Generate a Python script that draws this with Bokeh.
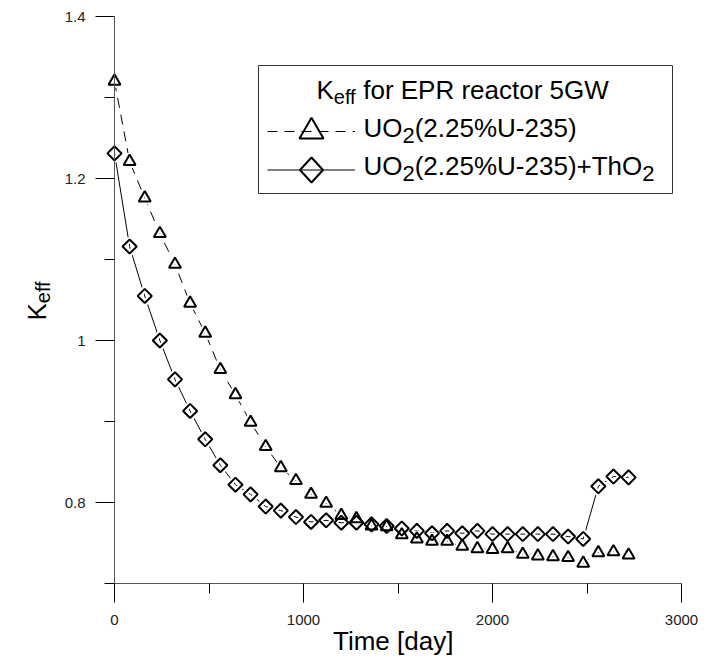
import numpy as np
from bokeh.plotting import figure
from bokeh.models import (Range1d, FixedTicker, Label, Legend, LegendItem,
                          BoxAnnotation, PolyAnnotation)
from bokeh.embed import file_html
from bokeh.resources import INLINE

# ---------------- data ----------------
days = [0, 80, 160, 240, 320, 400, 480, 560, 640, 720, 800, 880, 960, 1040,
        1120, 1200, 1280, 1360, 1440, 1520, 1600, 1680, 1760, 1840, 1920,
        2000, 2080, 2160, 2240, 2320, 2400, 2480, 2560, 2640, 2720]
keff_uo2 = [1.320, 1.221, 1.176, 1.132, 1.094, 1.046, 1.009, 0.964, 0.933,
            0.899, 0.869, 0.843, 0.827, 0.810, 0.799, 0.784, 0.780, 0.771,
            0.770, 0.760, 0.755, 0.752, 0.752, 0.746, 0.743, 0.742, 0.743,
            0.736, 0.734, 0.733, 0.732, 0.725, 0.738, 0.739, 0.735]
keff_uo2_tho2 = [1.231, 1.116, 1.055, 1.000, 0.952, 0.913, 0.878, 0.846, 0.822,
                 0.810, 0.795, 0.790, 0.782, 0.776, 0.778, 0.775, 0.775, 0.773,
                 0.771, 0.768, 0.765, 0.762, 0.765, 0.762, 0.765, 0.761, 0.761,
                 0.761, 0.761, 0.761, 0.758, 0.755, 0.820, 0.832, 0.831]

x_limits = (0, 3000)
y_limits = (0.7, 1.4)
xtick_values = [0, 1000, 2000, 3000]
xtick_labels = ["0", "1000", "2000", "3000"]
xtick_minor = [500, 1500, 2500]
ytick_values = [0.8, 1.0, 1.2, 1.4]
ytick_labels = ["0.8", "1", "1.2", "1.4"]
ytick_minor = [0.7, 0.9, 1.1, 1.3]

x_title = "Time [day]"
y_title = ("K", "eff")
legend_title = ("K", "eff", "for EPR reactor 5GW")
series1_label = ("UO", "2", "(2.25%U-235)")
series2_label = ("UO", "2", "(2.25%U-235)+ThO", "2")

FONT = "Liberation Sans"
MAIN = "26px"
SUB = "20px"
SUB2 = "22px"

# ---------------- layout (pixels) ----------------
W, H = 706, 657
AX_L, AX_R = 114, 681      # pixel columns of x = 0 and x = 3000
AX_T, AX_B = 16, 583       # pixel rows of y = 1.4 and y = 0.7
xs_per_px = (x_limits[1] - x_limits[0]) / (AX_R - AX_L)
ys_per_px = (y_limits[1] - y_limits[0]) / (AX_B - AX_T)
x_range = Range1d(x_limits[0] - AX_L * xs_per_px, x_limits[1] + (W - AX_R) * xs_per_px)
y_range = Range1d(y_limits[0] - (H - AX_B) * ys_per_px, y_limits[1] + AX_T * ys_per_px)

p = figure(width=W, height=H, x_range=x_range, y_range=y_range,
           output_backend="svg", toolbar_location=None,
           min_border_left=0, min_border_right=0,
           min_border_top=0, min_border_bottom=0)
p.xgrid.visible = False
p.ygrid.visible = False
p.outline_line_color = None
p.background_fill_color = "white"
p.border_fill_color = "white"

p.xaxis.fixed_location = y_limits[0]
p.yaxis.fixed_location = x_limits[0]
p.xaxis.bounds = x_limits
p.yaxis.bounds = y_limits

for ax in (p.xaxis[0], p.yaxis[0]):
    ax.axis_line_color = "#555555"
    ax.axis_line_width = 1
    ax.major_tick_line_color = "black"
    ax.minor_tick_line_color = "black"
    ax.major_tick_out = 19
    ax.major_tick_in = 0
    ax.minor_tick_out = 10
    ax.minor_tick_in = 0
    ax.major_label_text_font = FONT
    ax.major_label_text_font_size = "15px"
    ax.major_label_text_color = "#222222"
p.xaxis.major_label_standoff = 12
p.yaxis.major_label_standoff = 10

p.xaxis.ticker = FixedTicker(ticks=xtick_values, minor_ticks=xtick_minor)
p.xaxis.major_label_overrides = dict(zip(xtick_values, xtick_labels))
p.yaxis.ticker = FixedTicker(ticks=ytick_values, minor_ticks=ytick_minor)
p.yaxis.major_label_overrides = dict(zip(ytick_values, ytick_labels))

# ---------------- series ----------------
DASH = "10 7"
r1l = p.line(days, keff_uo2, line_color="black", line_width=1, line_dash=DASH)
r2l = p.line(days, keff_uo2_tho2, line_color="black", line_width=1)
# white halos: the connecting lines stop short of each symbol
p.scatter(days, keff_uo2, marker="triangle", size=12, fill_color=None,
          line_color="white", line_width=6)
p.scatter(days, keff_uo2_tho2, marker="square", angle=np.pi / 4, size=10,
          fill_color=None, line_color="white", line_width=6)
r1s = p.scatter(days, keff_uo2, marker="triangle", size=12, fill_color=None,
                line_color="black", line_width=2)
r2s = p.scatter(days, keff_uo2_tho2, marker="square", angle=np.pi / 4, size=10,
                fill_color=None, line_color="black", line_width=2)


def up(py):
    """page row -> frame-relative screen y (measured upward)"""
    return H - py


# ---------------- legend ----------------
box = BoxAnnotation(left=258, right=672, top=up(65), bottom=up(193),
                    left_units="screen", right_units="screen",
                    top_units="screen", bottom_units="screen",
                    fill_color=None, fill_alpha=0, line_color="#333333",
                    line_alpha=1, line_width=1)
p.add_layout(box)

common = dict(glyph_width=88, padding=0, margin=0, spacing=0, label_standoff=0,
              label_width=0, label_height=0, label_text_font_size="1px",
              border_line_color=None, background_fill_alpha=0)
leg1 = Legend(items=[LegendItem(label=" ", renderers=[r1l, r1s])],
              location=(267, up(161)), glyph_height=60, **common)
leg2 = Legend(items=[LegendItem(label=" ", renderers=[r2l])],
              location=(267, up(189)), glyph_height=39, **common)
p.add_layout(leg1)
p.add_layout(leg2)

cx, cy, hw, hh = 311, 169.5, 11.5, 12.5
diamond = PolyAnnotation(xs=[cx, cx + hw, cx, cx - hw],
                         ys=[up(cy - hh), up(cy), up(cy + hh), up(cy)],
                         xs_units="screen", ys_units="screen",
                         fill_color="white", fill_alpha=1,
                         line_color="black", line_width=2, line_alpha=1)
p.add_layout(diamond)

DY = 10  # Bokeh draws "alphabetic" text about this much below the anchor


def txt(px, py, s, size=MAIN, angle=0, align="left", color="black"):
    if angle:
        sx, sy = px - DY, up(py)
    else:
        sx, sy = px, up(py - DY)
    p.add_layout(Label(x=sx, y=sy, x_units="screen", y_units="screen", text=s,
                       text_font=FONT, text_font_size=size, angle=angle,
                       text_align=align, text_baseline="alphabetic",
                       text_color=color))


# legend title (page pixel positions of baselines)
txt(316, 99, legend_title[0])
txt(333.3, 106, legend_title[1], SUB)
txt(362.7, 99, legend_title[2])
# series 1
txt(363, 137, series1_label[0])
txt(402, 145, series1_label[1], SUB2)
txt(414.2, 137, series1_label[2])
# series 2
txt(363, 175, series2_label[0])
txt(402, 183, series2_label[1], SUB2)
txt(414.2, 175, series2_label[2])
txt(641.8, 183, series2_label[3], SUB2)

# axis titles
txt(46, 320, y_title[0], angle=np.pi / 2)
txt(52.5, 302.7, y_title[1], SUB, angle=np.pi / 2)
txt(392.7, 650, x_title, align="center")

open("out.html", "w").write(file_html(p, INLINE))
